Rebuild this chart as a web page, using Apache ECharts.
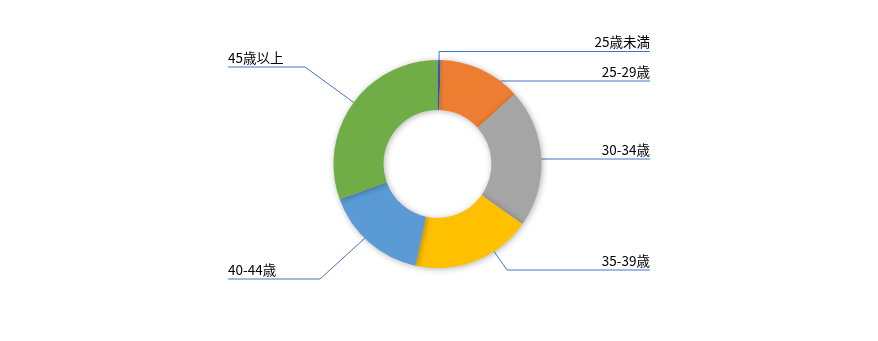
<!DOCTYPE html>
<html>
<head>
<meta charset="utf-8">
<script src="https://cdn.jsdelivr.net/npm/echarts@6/dist/echarts.min.js"></script>
<style>
  html, body { margin: 0; padding: 0; background: #fff; }
  #chart { width: 878px; height: 341px; }
</style>
</head>
<body>
<div id="chart"></div>
<script>
// data (share of respondents, %)
const categories = ['25歳未満', '25-29歳', '30-34歳', '35-39歳', '40-44歳', '45歳以上'];
const shares = [0.5, 12.8, 21.5, 18.6, 16.1, 30.5];
const colors = ['#4472C4', '#ED7D31', '#A5A5A5', '#FFC000', '#5B9BD5', '#70AD47'];

// leader lines: angle where the line leaves the ring, x of the bend, y of the underline
const leaderAngle = [0.9, 37.2, 87.2, 147.1, 224.4, 306.3];
const leaderBendX = [439, null, null, 507, 320, 305];
const leaderY = [51.5, 81, 159, 270, 279, 67];

const cx = 437.5, cy = 164, rIn = 54, rOut = 104;
const edgeLeft = 228, edgeRight = 650;

let dataList = categories.map((name, i) => ({
  name: name,
  value: shares[i],
  itemStyle: { color: colors[i] }
}));

let option = {
  animation: false,
  series: [{
    type: 'pie',
    center: [cx, cy],
    radius: [rIn, rOut],
    startAngle: 90,
    avoidLabelOverlap: false,
    itemStyle: {
      shadowBlur: 6,
      shadowColor: 'rgba(0,0,0,0.3)',
      shadowOffsetX: 1,
      shadowOffsetY: 1
    },
    label: {
      show: true,
      position: 'outside',
      formatter: '{b}',
      color: '#000',
      fontSize: 13.5,
      fontFamily: 'Noto Sans CJK JP'
    },
    labelLine: {
      show: true,
      length: 10,
      length2: 10,
      lineStyle: { color: '#4472C4', width: 1 }
    },
    labelLayout: function (params) {
      const i = params.dataIndex;
      const a = leaderAngle[i] * Math.PI / 180;
      const start = [cx + rOut * Math.sin(a), cy - rOut * Math.cos(a)];
      const isLeft = start[0] < cx;
      const y = leaderY[i];
      const bx = leaderBendX[i] == null ? start[0] : leaderBendX[i];
      if (leaderBendX[i] == null) start[1] = y;
      const end = [isLeft ? edgeLeft : edgeRight, y];
      return {
        x: end[0],
        y: y - 9.5,
        align: isLeft ? 'left' : 'right',
        verticalAlign: 'middle',
        labelLinePoints: [start, [bx, y], end]
      };
    },
    data: dataList
  }]
};

let myChart = echarts.init(document.getElementById('chart'));
myChart.setOption(option);
</script>
</body>
</html>
